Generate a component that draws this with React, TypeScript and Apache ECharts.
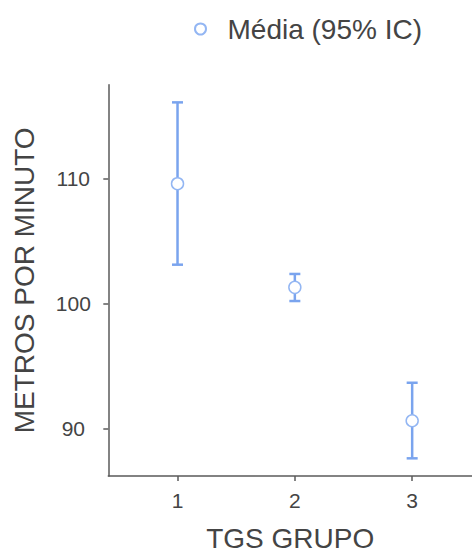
import React, { useEffect, useRef } from "react";
import * as echarts from "echarts";

const groups = [1, 2, 3];
const means = [109.57, 101.3, 90.66];
const lowerCI = [103.11, 100.21, 87.66];
const upperCI = [116.06, 102.37, 93.69];
const yTicks = [90, 100, 110];
const seriesName = "Média (95% IC)";
const xAxisName = "TGS GRUPO";
const yAxisName = "METROS POR MINUTO";

const FONT = "'Liberation Sans', Arial, sans-serif";
const BAR_COLOR = "#7aa4ee";
const MARK_COLOR = "#93b6f3";
const AXIS_COLOR = "#5a5a5a";
const TEXT_COLOR = "#444444";

export default function App() {
  const ref = useRef<HTMLDivElement>(null);
  useEffect(() => {
    if (!ref.current) return;
    const chart = echarts.init(ref.current, null, { renderer: "svg" });
    const meanData = groups.map((g, i) => [g, means[i]]);
    const ciData = groups.map((g, i) => [g, lowerCI[i], upperCI[i]]);
    chart.setOption({
      animation: false,
      backgroundColor: "#ffffff",
      textStyle: { fontFamily: FONT },
      legend: {
        data: [seriesName],
        left: 189,
        top: 10,
        itemWidth: 44,
        itemHeight: 11,
        textStyle: { fontSize: 28, color: TEXT_COLOR, fontFamily: FONT },
      },
      grid: {
        left: 108.3,
        right: 0,
        top: 84.7,
        bottom: 553 - 476,
        containLabel: false,
        outerBoundsMode: "none",
      },
      xAxis: {
        type: "value",
        min: 0.41,
        max: 3.51,
        name: xAxisName,
        nameLocation: "middle",
        nameGap: 48,
        nameTextStyle: { fontSize: 28, color: TEXT_COLOR, fontFamily: FONT },
        splitLine: { show: false },
        axisLine: { show: true, lineStyle: { color: AXIS_COLOR, width: 1.5 } },
        axisTick: { show: true, length: 5, customValues: groups, lineStyle: { color: AXIS_COLOR, width: 1.5 } },
        axisLabel: { customValues: groups, fontSize: 21, color: TEXT_COLOR, margin: 14, fontFamily: FONT },
      },
      yAxis: {
        type: "value",
        min: 86.25,
        max: 117.47,
        name: yAxisName,
        nameLocation: "middle",
        nameGap: 70,
        nameTextStyle: { fontSize: 28, color: TEXT_COLOR, fontFamily: FONT },
        splitLine: { show: false },
        axisLine: { show: true, lineStyle: { color: AXIS_COLOR, width: 1.5 } },
        axisTick: { show: true, length: 5, customValues: yTicks, lineStyle: { color: AXIS_COLOR, width: 1.5 } },
        axisLabel: { customValues: yTicks, fontSize: 21, color: TEXT_COLOR, margin: 35, align: "center", fontFamily: FONT },
      },
      series: [
        {
          type: "custom",
          name: "IC",
          z: 2,
          data: ciData,
          renderItem: (params: any, api: any) => {
            const x = api.value(0);
            const lo = api.coord([x, api.value(1)]);
            const hi = api.coord([x, api.value(2)]);
            const hw = 5.5;
            const style = { stroke: BAR_COLOR, lineWidth: 2.5 };
            return {
              type: "group",
              children: [
                { type: "line", shape: { x1: hi[0], y1: hi[1], x2: lo[0], y2: lo[1] }, style },
                { type: "line", shape: { x1: hi[0] - hw, y1: hi[1], x2: hi[0] + hw, y2: hi[1] }, style },
                { type: "line", shape: { x1: lo[0] - hw, y1: lo[1], x2: lo[0] + hw, y2: lo[1] }, style },
              ],
            };
          },
        },
        {
          type: "scatter",
          name: seriesName,
          z: 3,
          data: meanData,
          symbol: "circle",
          symbolSize: 12,
          itemStyle: { color: "#ffffff", borderColor: MARK_COLOR, borderWidth: 1.5, opacity: 1 },
        },
      ],
    });
    return () => chart.dispose();
  }, []);
  return (
    <div
      ref={ref}
      style={{ position: "fixed", left: 0, top: 0, width: 472, height: 553, background: "#fff" }}
    />
  );
}
